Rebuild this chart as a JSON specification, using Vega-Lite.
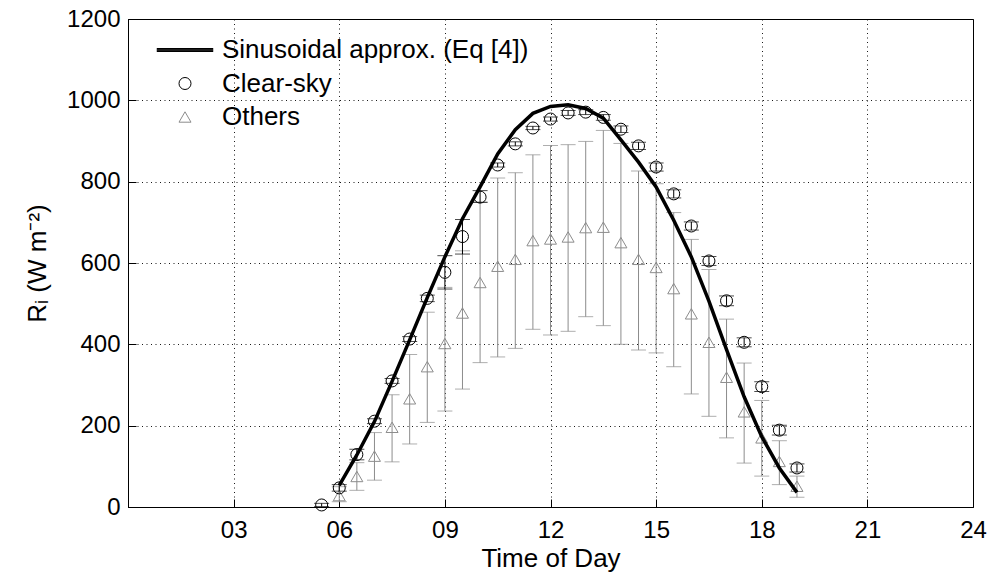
{
  "$schema": "https://vega.github.io/schema/vega-lite/v6.json",
  "width": 845,
  "height": 488,
  "autosize": {"type": "none"},
  "padding": {"left": 128, "top": 19, "right": 22, "bottom": 69},
  "background": "white",
  "config": {
    "view": {"stroke": "black", "strokeWidth": 1},
    "font": "Liberation Sans",
    "axis": {
      "labelFont": "Liberation Sans", "titleFont": "Liberation Sans",
      "labelFontSize": 24, "titleFontSize": 26, "titleFontWeight": "normal",
      "labelColor": "black", "titleColor": "black",
      "domainColor": "black", "tickColor": "black",
      "gridColor": "black", "gridDash": [1, 3.5], "gridOpacity": 0.9,
      "tickSize": -8, "labelFlush": false, "labelOverlap": false
    },
    "legend": {
      "orient": "none", "legendX": 44, "legendY": 18, "padding": 0,
      "labelFont": "Liberation Sans", "labelFontSize": 26, "labelColor": "black", "labelLimit": 0,
      "labelOffset": 24, "rowPadding": 7.5, "symbolSize": 144, "symbolStrokeWidth": 1
    }
  },
  "datasets": {
    "clear": [
      {"t": 5.5, "v": 5, "lo": 1, "hi": 9, "series": "Clear-sky"},
      {"t": 6, "v": 47, "lo": 39, "hi": 55, "series": "Clear-sky"},
      {"t": 6.5, "v": 129, "lo": 116, "hi": 142, "series": "Clear-sky"},
      {"t": 7, "v": 211, "lo": 205, "hi": 217, "series": "Clear-sky"},
      {"t": 7.5, "v": 310, "lo": 304, "hi": 316, "series": "Clear-sky"},
      {"t": 8, "v": 413, "lo": 407, "hi": 419, "series": "Clear-sky"},
      {"t": 8.5, "v": 513, "lo": 505, "hi": 521, "series": "Clear-sky"},
      {"t": 9, "v": 577, "lo": 536, "hi": 618, "series": "Clear-sky"},
      {"t": 9.5, "v": 665, "lo": 622, "hi": 707, "series": "Clear-sky"},
      {"t": 10, "v": 762, "lo": 749, "hi": 778, "series": "Clear-sky"},
      {"t": 10.5, "v": 841, "lo": 836, "hi": 846, "series": "Clear-sky"},
      {"t": 11, "v": 893, "lo": 888, "hi": 898, "series": "Clear-sky"},
      {"t": 11.5, "v": 932, "lo": 928, "hi": 936, "series": "Clear-sky"},
      {"t": 12, "v": 954, "lo": 949, "hi": 959, "series": "Clear-sky"},
      {"t": 12.5, "v": 969, "lo": 963, "hi": 975, "series": "Clear-sky"},
      {"t": 13, "v": 971, "lo": 965, "hi": 977, "series": "Clear-sky"},
      {"t": 13.5, "v": 958, "lo": 951, "hi": 965, "series": "Clear-sky"},
      {"t": 14, "v": 929, "lo": 921, "hi": 937, "series": "Clear-sky"},
      {"t": 14.5, "v": 888, "lo": 879, "hi": 897, "series": "Clear-sky"},
      {"t": 15, "v": 836, "lo": 826, "hi": 846, "series": "Clear-sky"},
      {"t": 15.5, "v": 770, "lo": 760, "hi": 780, "series": "Clear-sky"},
      {"t": 16, "v": 691, "lo": 681, "hi": 701, "series": "Clear-sky"},
      {"t": 16.5, "v": 605, "lo": 594, "hi": 616, "series": "Clear-sky"},
      {"t": 17, "v": 507, "lo": 495, "hi": 519, "series": "Clear-sky"},
      {"t": 17.5, "v": 405, "lo": 394, "hi": 416, "series": "Clear-sky"},
      {"t": 18, "v": 296, "lo": 284, "hi": 308, "series": "Clear-sky"},
      {"t": 18.5, "v": 189, "lo": 177, "hi": 201, "series": "Clear-sky"},
      {"t": 19, "v": 96, "lo": 86, "hi": 106, "series": "Clear-sky"}
    ],
    "others": [
      {"t": 6, "v": 28, "lo": 13, "hi": 50, "series": "Others"},
      {"t": 6.5, "v": 75, "lo": 41, "hi": 109, "series": "Others"},
      {"t": 7, "v": 125, "lo": 66, "hi": 183, "series": "Others"},
      {"t": 7.5, "v": 196, "lo": 111, "hi": 276, "series": "Others"},
      {"t": 8, "v": 266, "lo": 155, "hi": 375, "series": "Others"},
      {"t": 8.5, "v": 345, "lo": 208, "hi": 479, "series": "Others"},
      {"t": 9, "v": 402, "lo": 236, "hi": 540, "series": "Others"},
      {"t": 9.5, "v": 477, "lo": 290, "hi": 630, "series": "Others"},
      {"t": 10, "v": 552, "lo": 355, "hi": 750, "series": "Others"},
      {"t": 10.5, "v": 592, "lo": 369, "hi": 809, "series": "Others"},
      {"t": 11, "v": 609, "lo": 390, "hi": 822, "series": "Others"},
      {"t": 11.5, "v": 655, "lo": 437, "hi": 866, "series": "Others"},
      {"t": 12, "v": 659, "lo": 423, "hi": 889, "series": "Others"},
      {"t": 12.5, "v": 664, "lo": 432, "hi": 891, "series": "Others"},
      {"t": 13, "v": 687, "lo": 468, "hi": 899, "series": "Others"},
      {"t": 13.5, "v": 688, "lo": 446, "hi": 926, "series": "Others"},
      {"t": 14, "v": 650, "lo": 400, "hi": 894, "series": "Others"},
      {"t": 14.5, "v": 609, "lo": 386, "hi": 826, "series": "Others"},
      {"t": 15, "v": 589, "lo": 379, "hi": 795, "series": "Others"},
      {"t": 15.5, "v": 537, "lo": 345, "hi": 724, "series": "Others"},
      {"t": 16, "v": 475, "lo": 278, "hi": 658, "series": "Others"},
      {"t": 16.5, "v": 405, "lo": 223, "hi": 584, "series": "Others"},
      {"t": 17, "v": 319, "lo": 170, "hi": 462, "series": "Others"},
      {"t": 17.5, "v": 234, "lo": 108, "hi": 354, "series": "Others"},
      {"t": 18, "v": 170, "lo": 76, "hi": 262, "series": "Others"},
      {"t": 18.5, "v": 112, "lo": 55, "hi": 163, "series": "Others"},
      {"t": 19, "v": 51, "lo": 24, "hi": 76, "series": "Others"}
    ],
    "curve": [
      {"t": 6, "v": 53}, {"t": 6.5, "v": 128}, {"t": 7, "v": 210}, {"t": 7.5, "v": 309},
      {"t": 8, "v": 411}, {"t": 8.5, "v": 515}, {"t": 9, "v": 615}, {"t": 9.5, "v": 709},
      {"t": 10, "v": 787}, {"t": 10.5, "v": 868}, {"t": 11, "v": 928}, {"t": 11.5, "v": 968},
      {"t": 12, "v": 985}, {"t": 12.5, "v": 989}, {"t": 13, "v": 980}, {"t": 13.5, "v": 956},
      {"t": 14, "v": 903}, {"t": 14.5, "v": 848}, {"t": 15, "v": 787}, {"t": 15.5, "v": 705},
      {"t": 16, "v": 615}, {"t": 16.5, "v": 506}, {"t": 17, "v": 387}, {"t": 17.5, "v": 271},
      {"t": 18, "v": 173}, {"t": 18.5, "v": 96}, {"t": 19, "v": 36}
    ]
  },
  "encoding": {
    "x": {"field": "t", "type": "quantitative", "scale": {"domain": [0, 24], "nice": false, "zero": false},
      "axis": {"values": [3, 6, 9, 12, 15, 18, 21, 24], "labelExpr": "datum.value < 10 ? '0' + datum.value : '' + datum.value",
        "title": "Time of Day", "grid": true, "labelPadding": 19, "titlePadding": 3}}
  },
  "layer": [
    {
      "data": {"name": "others"},
      "mark": {"type": "rule", "color": "#8c8c8c", "strokeWidth": 1},
      "encoding": {
        "y": {"field": "lo", "type": "quantitative", "scale": {"domain": [0, 1200], "nice": false},
          "axis": {"values": [0, 200, 400, 600, 800, 1000, 1200], "format": "d", "title": "Rᵢ (W m⁻²)", "grid": true, "labelPadding": 16, "titlePadding": 16}},
        "y2": {"field": "hi"}
      }
    },
    {
      "data": {"name": "others"},
      "mark": {"type": "tick", "orient": "horizontal", "color": "#8c8c8c", "size": 15, "thickness": 1},
      "encoding": {
        "y": {"field": "lo", "type": "quantitative", "title": "Rᵢ (W m⁻²)"}
      }
    },
    {
      "data": {"name": "others"},
      "mark": {"type": "tick", "orient": "horizontal", "color": "#8c8c8c", "size": 15, "thickness": 1},
      "encoding": {
        "y": {"field": "hi", "type": "quantitative", "title": "Rᵢ (W m⁻²)"}
      }
    },
    {
      "data": {"name": "others"},
      "mark": {"type": "point", "filled": false, "size": 144, "strokeWidth": 1, "opacity": 1},
      "encoding": {
        "y": {"field": "v", "type": "quantitative", "title": "Rᵢ (W m⁻²)"},
        "color": {"field": "series", "type": "nominal",
          "scale": {"domain": ["Sinusoidal approx. (Eq [4])", "Clear-sky", "Others"], "range": ["black", "black", "#8c8c8c"]},
          "legend": {"title": null}},
        "shape": {"field": "series", "type": "nominal",
          "scale": {"domain": ["Sinusoidal approx. (Eq [4])", "Clear-sky", "Others"], "range": ["M-4.7,-0.25L4.7,-0.25M-4.7,-0.12L4.7,-0.12M-4.7,0L4.7,0M-4.7,0.12L4.7,0.12M-4.7,0.25L4.7,0.25", "circle", "triangle-up"]},
          "legend": {"title": null}}
      }
    },
    {
      "data": {"name": "clear"},
      "mark": {"type": "rule", "color": "black", "strokeWidth": 1},
      "encoding": {
        "y": {"field": "lo", "type": "quantitative", "title": "Rᵢ (W m⁻²)"},
        "y2": {"field": "hi"}
      }
    },
    {
      "data": {"name": "clear"},
      "mark": {"type": "tick", "orient": "horizontal", "color": "black", "size": 15, "thickness": 1},
      "encoding": {
        "y": {"field": "lo", "type": "quantitative", "title": "Rᵢ (W m⁻²)"}
      }
    },
    {
      "data": {"name": "clear"},
      "mark": {"type": "tick", "orient": "horizontal", "color": "black", "size": 15, "thickness": 1},
      "encoding": {
        "y": {"field": "hi", "type": "quantitative", "title": "Rᵢ (W m⁻²)"}
      }
    },
    {
      "data": {"name": "clear"},
      "mark": {"type": "point", "filled": false, "size": 144, "strokeWidth": 1, "opacity": 1},
      "encoding": {
        "y": {"field": "v", "type": "quantitative", "title": "Rᵢ (W m⁻²)"},
        "color": {"field": "series", "type": "nominal",
          "scale": {"domain": ["Sinusoidal approx. (Eq [4])", "Clear-sky", "Others"], "range": ["black", "black", "#8c8c8c"]},
          "legend": {"title": null}},
        "shape": {"field": "series", "type": "nominal",
          "scale": {"domain": ["Sinusoidal approx. (Eq [4])", "Clear-sky", "Others"], "range": ["M-4.7,-0.25L4.7,-0.25M-4.7,-0.12L4.7,-0.12M-4.7,0L4.7,0M-4.7,0.12L4.7,0.12M-4.7,0.25L4.7,0.25", "circle", "triangle-up"]},
          "legend": {"title": null}}
      }
    },
    {
      "data": {"name": "curve"},
      "mark": {"type": "line", "color": "black", "strokeWidth": 3.5},
      "encoding": {
        "y": {"field": "v", "type": "quantitative", "title": "Rᵢ (W m⁻²)"}
      }
    }
  ]
}
